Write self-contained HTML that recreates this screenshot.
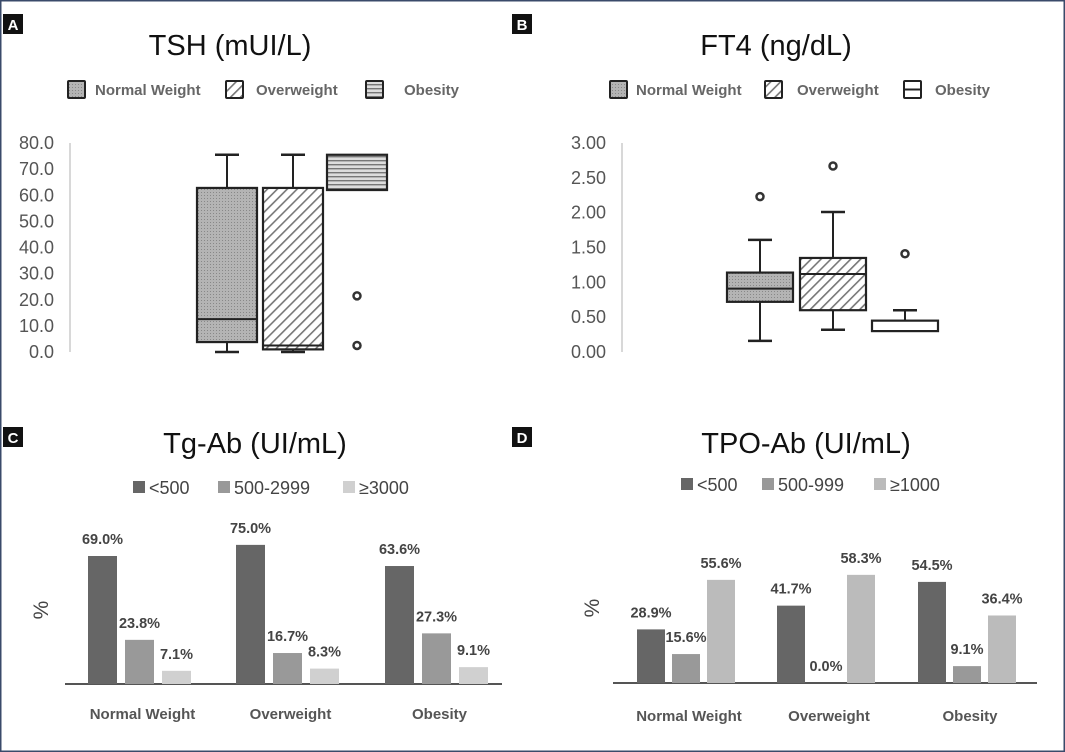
<!DOCTYPE html>
<html><head><meta charset="utf-8">
<style>
html,body{margin:0;padding:0;background:#fff;}
svg{display:block;font-family:"Liberation Sans",sans-serif;}
.tick{font-size:18px;fill:#555;text-anchor:end;}
.leg{font-size:15px;fill:#666;font-weight:bold;}
.title{font-size:29px;fill:#111;text-anchor:middle;}
.val{font-size:14.5px;fill:#444;font-weight:bold;text-anchor:middle;}
.cat{font-size:15px;fill:#555;font-weight:bold;text-anchor:middle;}
.bleg{font-size:18px;fill:#444;}
.pct{font-size:21px;fill:#444;}
</style></head>
<body>
<svg id="fig" width="1065" height="752" viewBox="0 0 1065 752" xmlns="http://www.w3.org/2000/svg">
<defs>
<pattern id="dots" width="3" height="3" patternUnits="userSpaceOnUse"><rect width="3" height="3" fill="#b4b4b4"/><rect width="1" height="1" fill="#888"/></pattern>
<pattern id="diag" width="7" height="7" patternUnits="userSpaceOnUse" patternTransform="rotate(45)"><rect width="7" height="7" fill="#fff"/><rect width="1.6" height="7" fill="#777"/></pattern>
<pattern id="horiz" width="4" height="4" patternUnits="userSpaceOnUse"><rect width="4" height="4" fill="#ddd"/><rect width="4" height="1.4" fill="#777"/></pattern>
</defs>
<rect x="0.5" y="0.5" width="1064" height="751" fill="#fff" stroke="#3a4a6a" stroke-width="2"/>
<g font-weight="bold" font-size="15" fill="#fff" text-anchor="middle">
<rect x="3" y="14" width="20" height="20" fill="#111"/><text x="13" y="30">A</text>
<rect x="512" y="14" width="20" height="20" fill="#111"/><text x="522" y="30">B</text>
<rect x="3" y="427" width="20" height="20" fill="#111"/><text x="13" y="443">C</text>
<rect x="512" y="427" width="20" height="20" fill="#111"/><text x="522" y="443">D</text>
</g>
<g id="A"></g><g id="B"></g><g id="C"></g><g id="D"></g>
</svg>
<script>
// Box plot data: [whiskerLow, q1, median, q3, whiskerHigh]
const tshGroups = ["Normal Weight","Overweight","Obesity"];
const tshBoxes = [[0,3.8,12.6,62.8,75.5],[0,1.0,2.5,62.8,75.5],[62,62,62,75.5,75.5]];
const tshOutliers = [[],[],[21.5,2.5]];
const tshTicks = ["0.0","10.0","20.0","30.0","40.0","50.0","60.0","70.0","80.0"];
const ft4Groups = ["Normal Weight","Overweight","Obesity"];
const ft4Boxes = [[0.16,0.72,0.91,1.14,1.61],[0.32,0.60,1.12,1.35,2.01],[0.30,0.30,0.30,0.45,0.60]];
const ft4Outliers = [[2.23],[2.67],[1.41]];
const ft4Ticks = ["0.00","0.50","1.00","1.50","2.00","2.50","3.00"];
// Bar data
const tgCats = ["Normal Weight","Overweight","Obesity"];
const tgSeries = ["<500","500-2999","≥3000"];
const tgLow = [69.0,75.0,63.6];
const tgMid = [23.8,16.7,27.3];
const tgHigh = [7.1,8.3,9.1];
const tpoCats = ["Normal Weight","Overweight","Obesity"];
const tpoSeries = ["<500","500-999","≥1000"];
const tpoLow = [28.9,41.7,54.5];
const tpoMid = [15.6,0.0,9.1];
const tpoHigh = [55.6,58.3,36.4];

const NS="http://www.w3.org/2000/svg";
function mk(parent,tag,attrs,text){const e=document.createElementNS(NS,tag);for(const k in attrs)e.setAttribute(k,attrs[k]);if(text!==undefined)e.textContent=text;parent.appendChild(e);return e;}

const fills=["url(#dots)","url(#diag)","url(#horiz)"];
function boxPanel(g,cfg){
  const y=v=>cfg.y0-(v/cfg.max)*(cfg.y0-cfg.y1);
  const t=mk(g,'text',{x:cfg.tx,y:55,class:'title'},cfg.title);
  
  
  const ax=mk(g,'line',{x1:cfg.ax,x2:cfg.ax,y1:cfg.y1,y2:cfg.y0,stroke:'#ccc','stroke-width':1.5});
  
  
  cfg.ticks.forEach((lab,i)=>{
    const v=parseFloat(lab);
    const tk=mk(g,'text',{x:cfg.ax-16,y:y(v)+6,class:'tick'},lab);
    
    
  });
  cfg.legend.forEach((L,i)=>{
    const lg=mk(g,'g',{});
    
    
    mk(lg,'rect',{x:L[0],y:81,width:17,height:17,fill:cfg.fills[i],stroke:'#222','stroke-width':2,rx:1});
    if(cfg.obMedian&&i==2) mk(lg,'line',{x1:L[0],x2:L[0]+17,y1:89.5,y2:89.5,stroke:'#222','stroke-width':2});
    mk(lg,'text',{x:L[1],y:95,class:'leg'},cfg.groups[i]);
  });
  cfg.boxes.forEach((b,i)=>{
    const x=cfg.bx[i],w=cfg.bw,cx=x+w/2;
    const bg=mk(g,'g',{});
    
    
    if(b[4]>b[3]){mk(bg,'line',{x1:cx,x2:cx,y1:y(b[4]),y2:y(b[3]),stroke:'#222','stroke-width':2});mk(bg,'line',{x1:cx-12,x2:cx+12,y1:y(b[4]),y2:y(b[4]),stroke:'#222','stroke-width':2.5});}
    if(b[0]<b[1]){mk(bg,'line',{x1:cx,x2:cx,y1:y(b[1]),y2:y(b[0]),stroke:'#222','stroke-width':2});mk(bg,'line',{x1:cx-12,x2:cx+12,y1:y(b[0]),y2:y(b[0]),stroke:'#222','stroke-width':2.5});}
    mk(bg,'rect',{x:x,y:y(b[3]),width:w,height:Math.max(2,y(b[1])-y(b[3])),fill:cfg.fills[i],stroke:'#222','stroke-width':2.2});
    if(b[2]>b[1]) mk(bg,'line',{x1:x,x2:x+w,y1:y(b[2]),y2:y(b[2]),stroke:'#222','stroke-width':2});
    cfg.outliers[i].forEach(o=>{
      const c=mk(g,'circle',{cx:cx,cy:y(o),r:3.5,fill:'#fff',stroke:'#333','stroke-width':2.5});
      
      
    });
  });
}
boxPanel(document.getElementById('A'),{title:'TSH (mUI/L)',tx:230,ax:70,y0:352,y1:143,max:80,ticks:tshTicks,groups:tshGroups,boxes:tshBoxes,outliers:tshOutliers,bx:[197,263,327],bw:60,fills:fills,legend:[[68,95],[226,256],[366,404]]});
boxPanel(document.getElementById('B'),{title:'FT4 (ng/dL)',tx:776,ax:622,y0:352,y1:143,max:3,ticks:ft4Ticks,groups:ft4Groups,boxes:ft4Boxes,outliers:ft4Outliers,bx:[727,800,872],bw:66,fills:["url(#dots)","url(#diag)","#fff"],obMedian:true,legend:[[610,636],[765,797],[904,935]]});

const barCols=["#666","#999","#d0d0d0"];
const barColsD=["#666","#999","#bbb"];
function barPanel(g,cfg){
  const y=v=>cfg.base-v*1.855;
  const t=mk(g,'text',{x:cfg.tx,y:453,class:'title'},cfg.title);
  
  
  cfg.series.forEach((s,i)=>{
    const lg=mk(g,'g',{});
    
    
    mk(lg,'rect',{x:cfg.leg[i],y:cfg.ly-12,width:12,height:12,fill:cfg.cols[i]});
    mk(lg,'text',{x:cfg.leg[i]+16,y:cfg.ly+1,class:'bleg'},s);
  });
  const p=mk(g,'text',{x:0,y:0,class:'pct',transform:'translate('+(cfg.px+7)+','+cfg.py+') rotate(-90)','text-anchor':'middle'},'%');
  
  
  const ax=mk(g,'line',{x1:cfg.ax0,x2:cfg.ax1,y1:cfg.base,y2:cfg.base,stroke:'#555','stroke-width':2});
  
  
  cfg.cats.forEach((c,ci)=>{
    [cfg.low,cfg.mid,cfg.high].forEach((arr,si)=>{
      const x=cfg.gx[ci]+si*cfg.step,v=arr[ci];
      const r=mk(g,'rect',{x:x,y:y(v),width:cfg.bw,height:cfg.base-y(v),fill:cfg.cols[si]});
      
      
      const l=mk(g,'text',{x:x+cfg.bw/2,y:y(v)-12,class:'val'},v.toFixed(1)+'%');
      
      
    });
    const cl=mk(g,'text',{x:cfg.gx[ci]+cfg.step+cfg.bw/2+3,y:cfg.cy,class:'cat'},c);
    
    
  });
}
barPanel(document.getElementById('C'),{title:'Tg-Ab (UI/mL)',tx:255,cats:tgCats,series:tgSeries,low:tgLow,mid:tgMid,high:tgHigh,base:684,ax0:65,ax1:502,gx:[88,236,385],step:37,bw:29,cols:barCols,leg:[133,218,343],ly:493,px:41,py:610,cy:719});
barPanel(document.getElementById('D'),{title:'TPO-Ab (UI/mL)',tx:806,cats:tpoCats,series:tpoSeries,low:tpoLow,mid:tpoMid,high:tpoHigh,base:683,ax0:613,ax1:1037,gx:[637,777,918],step:35,bw:28,cols:barColsD,leg:[681,762,874],ly:490,px:592,py:608,cy:721});
</script>
</body></html>
